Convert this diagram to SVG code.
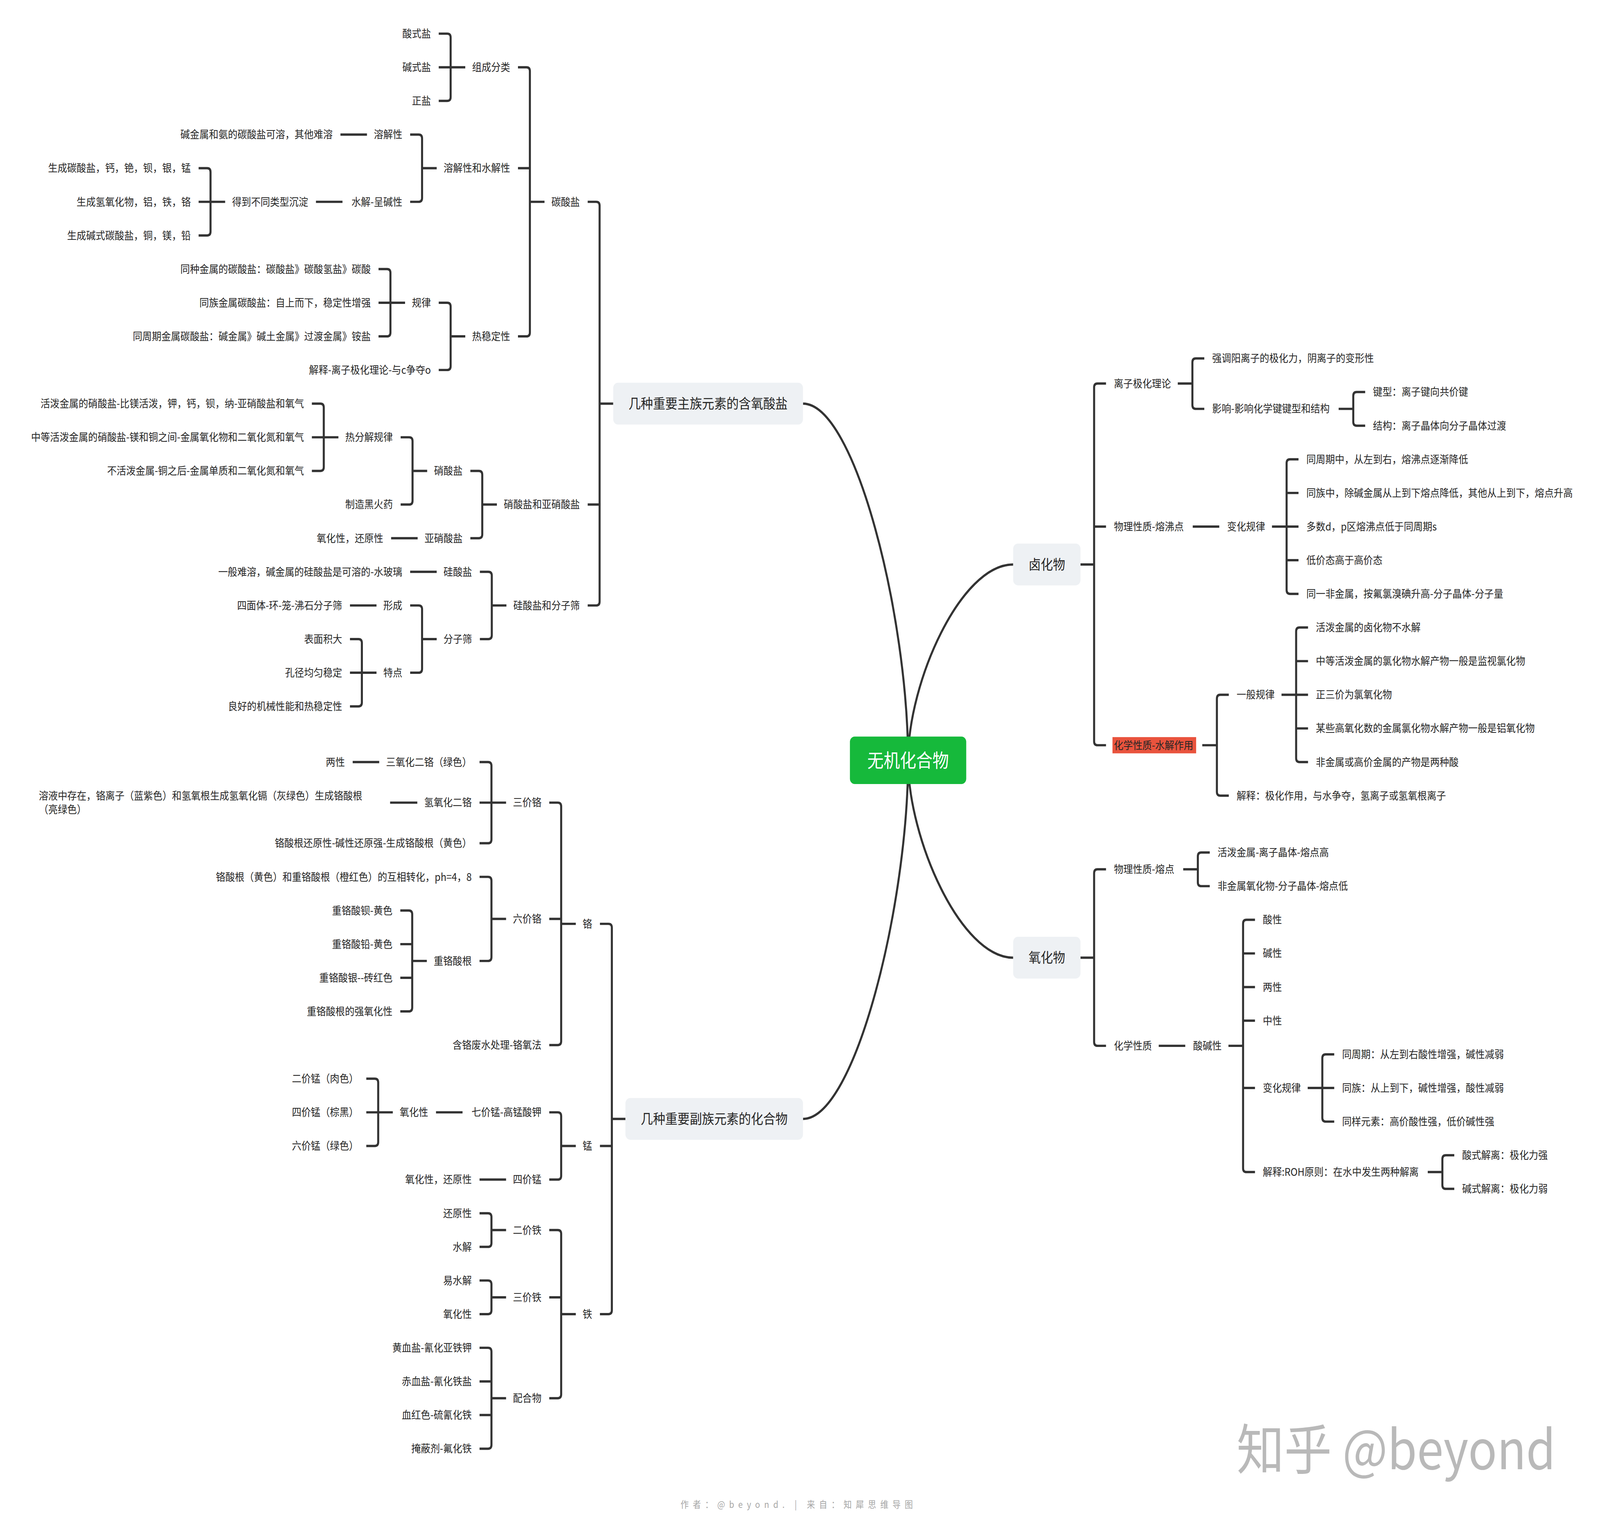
<svg xmlns="http://www.w3.org/2000/svg" width="4656" height="3914" viewBox="0 0 4656 3914" preserveAspectRatio="none">
<style>
:root{width:100vw;height:100vh}
.t{font-family:"Noto Sans CJK SC","Noto Sans CJK JP",sans-serif;font-size:28px;fill:#262626}
.e{text-anchor:end}
.s{text-anchor:start}
.c{fill:none;stroke:#333;stroke-width:6;stroke-linejoin:round}
.box{fill:#eef1f4}
.bt{font-family:"Noto Sans CJK SC","Noto Sans CJK JP",sans-serif;font-size:36px;fill:#262626;text-anchor:middle}
</style>
<rect width="4656" height="3914" fill="#ffffff"/>
<g transform="scale(0.9897)">
<g id="connectors">
<path class="c" d="M2361 1044 C2515 1044 2670 1597 2670 1966"/>
<path class="c" d="M2361 2894 C2515 2894 2670 2337 2670 1966"/>
<path class="c" d="M2979 1460 C2825 1460 2670 1764 2670 1966"/>
<path class="c" d="M2979 2477 C2825 2477 2670 2170 2670 1966"/>
<path class="c" d="M1728 522 H1753 Q1763 522 1763 532 V1556 Q1763 1566 1753 1566 H1728 M1728 1305 H1763 M1763 1044 H1803"/>
<path class="c" d="M1523 174 H1548 Q1558 174 1558 184 V860 Q1558 870 1548 870 H1523 M1523 435 H1558 M1558 522 H1601"/>
<path class="c" d="M1290 87 H1315 Q1325 87 1325 97 V251 Q1325 261 1315 261 H1290 M1290 174 H1368"/>
<path class="c" d="M1206 348 H1231 Q1241 348 1241 358 V512 Q1241 522 1231 522 H1206 M1241 435 H1284"/>
<path class="c" d="M1001 348 H1079"/>
<path class="c" d="M929 522 H1007"/>
<path class="c" d="M584 435 H609 Q619 435 619 445 V599 Q619 609 609 609 H584 M584 522 H662"/>
<path class="c" d="M1290 783 H1315 Q1325 783 1325 793 V947 Q1325 957 1315 957 H1290 M1325 870 H1368"/>
<path class="c" d="M1113 696 H1138 Q1148 696 1148 706 V860 Q1148 870 1138 870 H1113 M1113 783 H1191"/>
<path class="c" d="M1383 1218 H1408 Q1418 1218 1418 1228 V1382 Q1418 1392 1408 1392 H1383 M1418 1305 H1461"/>
<path class="c" d="M1178 1131 H1203 Q1213 1131 1213 1141 V1295 Q1213 1305 1203 1305 H1178 M1213 1218 H1256"/>
<path class="c" d="M917 1044 H942 Q952 1044 952 1054 V1208 Q952 1218 942 1218 H917 M917 1131 H995"/>
<path class="c" d="M1150 1392 H1228"/>
<path class="c" d="M1411 1479 H1436 Q1446 1479 1446 1489 V1643 Q1446 1653 1436 1653 H1411 M1446 1566 H1489"/>
<path class="c" d="M1206 1479 H1284"/>
<path class="c" d="M1206 1566 H1231 Q1241 1566 1241 1576 V1730 Q1241 1740 1231 1740 H1206 M1241 1653 H1284"/>
<path class="c" d="M1029 1566 H1107"/>
<path class="c" d="M1029 1653 H1054 Q1064 1653 1064 1663 V1817 Q1064 1827 1054 1827 H1029 M1029 1740 H1107"/>
<path class="c" d="M1764 2389.5 H1789 Q1799 2389.5 1799 2399.5 V3389 Q1799 3399 1789 3399 H1764 M1764 2964 H1799 M1799 2894 H1839"/>
<path class="c" d="M1615 2076 H1640 Q1650 2076 1650 2086 V2693 Q1650 2703 1640 2703 H1615 M1615 2376.75 H1650 M1650 2389.5 H1693"/>
<path class="c" d="M1410 1971 H1435 Q1445 1971 1445 1981 V2171 Q1445 2181 1435 2181 H1410 M1410 2076 H1488"/>
<path class="c" d="M1037 1971 H1115"/>
<path class="c" d="M1147 2076 H1227"/>
<path class="c" d="M1410 2268 H1435 Q1445 2268 1445 2278 V2475.5 Q1445 2485.5 1435 2485.5 H1410 M1445 2376.75 H1488"/>
<path class="c" d="M1177 2355 H1202 Q1212 2355 1212 2365 V2606 Q1212 2616 1202 2616 H1177 M1177 2442 H1212 M1177 2529 H1212 M1212 2485.5 H1255"/>
<path class="c" d="M1615 2877 H1640 Q1650 2877 1650 2887 V3041 Q1650 3051 1640 3051 H1615 M1650 2964 H1693"/>
<path class="c" d="M1282 2877 H1360"/>
<path class="c" d="M1077 2790 H1102 Q1112 2790 1112 2800 V2954 Q1112 2964 1102 2964 H1077 M1077 2877 H1155"/>
<path class="c" d="M1410 3051 H1488"/>
<path class="c" d="M1615 3181.5 H1640 Q1650 3181.5 1650 3191.5 V3606.5 Q1650 3616.5 1640 3616.5 H1615 M1615 3355.5 H1650 M1650 3399 H1693"/>
<path class="c" d="M1410 3138 H1435 Q1445 3138 1445 3148 V3215 Q1445 3225 1435 3225 H1410 M1445 3181.5 H1488"/>
<path class="c" d="M1410 3312 H1435 Q1445 3312 1445 3322 V3389 Q1445 3399 1435 3399 H1410 M1445 3355.5 H1488"/>
<path class="c" d="M1410 3486 H1435 Q1445 3486 1445 3496 V3737 Q1445 3747 1435 3747 H1410 M1410 3573 H1445 M1410 3660 H1445 M1445 3616.5 H1488"/>
<path class="c" d="M3252 992 H3227 Q3217 992 3217 1002 V1917.5 Q3217 1927.5 3227 1927.5 H3252 M3217 1362 H3252 M3177 1460 H3217"/>
<path class="c" d="M3541 927 H3516 Q3506 927 3506 937 V1047.5 Q3506 1057.5 3516 1057.5 H3541 M3463 992 H3506"/>
<path class="c" d="M4014 1014 H3989 Q3979 1014 3979 1024 V1091 Q3979 1101 3989 1101 H4014 M3936 1057.5 H3979"/>
<path class="c" d="M3507 1362 H3585"/>
<path class="c" d="M3818 1188 H3793 Q3783 1188 3783 1198 V1526 Q3783 1536 3793 1536 H3818 M3818 1275 H3783 M3740 1362 H3818 M3818 1449 H3783"/>
<path class="c" d="M3613 1797 H3588 Q3578 1797 3578 1807 V2048 Q3578 2058 3588 2058 H3613 M3535 1927.5 H3578"/>
<path class="c" d="M3846 1623 H3821 Q3811 1623 3811 1633 V1961 Q3811 1971 3821 1971 H3846 M3846 1710 H3811 M3768 1797 H3846 M3846 1884 H3811"/>
<path class="c" d="M3252 2248.5 H3227 Q3217 2248.5 3217 2258.5 V2695 Q3217 2705 3227 2705 H3252 M3177 2477 H3217"/>
<path class="c" d="M3557 2205 H3532 Q3522 2205 3522 2215 V2282 Q3522 2292 3532 2292 H3557 M3479 2248.5 H3522"/>
<path class="c" d="M3407 2705 H3485"/>
<path class="c" d="M3690 2379 H3665 Q3655 2379 3655 2389 V3021.5 Q3655 3031.5 3665 3031.5 H3690 M3690 2466 H3655 M3690 2553 H3655 M3690 2640 H3655 M3690 2814 H3655 M3612 2705 H3655"/>
<path class="c" d="M3923 2727 H3898 Q3888 2727 3888 2737 V2891 Q3888 2901 3898 2901 H3923 M3845 2814 H3923"/>
<path class="c" d="M4276 2988 H4251 Q4241 2988 4241 2998 V3065 Q4241 3075 4251 3075 H4276 M4198 3031.5 H4241"/>
</g>
<g id="root"><rect x="2499" y="1905" width="342" height="123" rx="14" fill="#16b93b"/><text x="2670" y="1984" text-anchor="middle" font-family="Noto Sans CJK SC, sans-serif" font-size="48" fill="#ffffff">无机化合物</text></g>
<g id="main1"><rect class="box" x="1803" y="990" width="558" height="108" rx="14"/><text class="bt" x="2082" y="1057">几种重要主族元素的含氧酸盐</text></g>
<g id="main2"><rect class="box" x="1839" y="2840" width="522" height="108" rx="14"/><text class="bt" x="2100" y="2907">几种重要副族元素的化合物</text></g>
<g id="halide"><rect class="box" x="2979" y="1406" width="198" height="108" rx="14"/><text class="bt" x="3078" y="1473">卤化物</text></g>
<g id="oxide"><rect class="box" x="2979" y="2423" width="198" height="108" rx="14"/><text class="bt" x="3078" y="2490">氧化物</text></g>
<g id="n1"><text class="t e" x="1705" y="532">碳酸盐</text></g>
<g id="n2"><text class="t e" x="1705" y="1315">硝酸盐和亚硝酸盐</text></g>
<g id="n3"><text class="t e" x="1705" y="1576">硅酸盐和分子筛</text></g>
<g id="n4"><text class="t e" x="1500" y="184">组成分类</text></g>
<g id="n5"><text class="t e" x="1500" y="445">溶解性和水解性</text></g>
<g id="n6"><text class="t e" x="1500" y="880">热稳定性</text></g>
<g id="n7"><text class="t e" x="1267" y="97">酸式盐</text></g>
<g id="n8"><text class="t e" x="1267" y="184">碱式盐</text></g>
<g id="n9"><text class="t e" x="1267" y="271">正盐</text></g>
<g id="n10"><text class="t e" x="1183" y="358">溶解性</text></g>
<g id="n11"><text class="t e" x="1183" y="532">水解-呈碱性</text></g>
<g id="n12"><text class="t e" x="978" y="358">碱金属和氨的碳酸盐可溶，其他难溶</text></g>
<g id="n13"><text class="t e" x="906" y="532">得到不同类型沉淀</text></g>
<g id="n14"><text class="t e" x="561" y="445">生成碳酸盐，钙，铯，钡，银，锰</text></g>
<g id="n15"><text class="t e" x="561" y="532">生成氢氧化物，铝，铁，铬</text></g>
<g id="n16"><text class="t e" x="561" y="619">生成碱式碳酸盐，铜，镁，铅</text></g>
<g id="n17"><text class="t e" x="1267" y="793">规律</text></g>
<g id="n18"><text class="t e" x="1267" y="967">解释-离子极化理论-与c争夺o</text></g>
<g id="n19"><text class="t e" x="1090" y="706">同种金属的碳酸盐：碳酸盐》碳酸氢盐》碳酸</text></g>
<g id="n20"><text class="t e" x="1090" y="793">同族金属碳酸盐：自上而下，稳定性增强</text></g>
<g id="n21"><text class="t e" x="1090" y="880">同周期金属碳酸盐：碱金属》碱土金属》过渡金属》铵盐</text></g>
<g id="n22"><text class="t e" x="1360" y="1228">硝酸盐</text></g>
<g id="n23"><text class="t e" x="1360" y="1402">亚硝酸盐</text></g>
<g id="n24"><text class="t e" x="1155" y="1141">热分解规律</text></g>
<g id="n25"><text class="t e" x="1155" y="1315">制造黑火药</text></g>
<g id="n26"><text class="t e" x="894" y="1054">活泼金属的硝酸盐-比镁活泼，钾，钙，钡，纳-亚硝酸盐和氧气</text></g>
<g id="n27"><text class="t e" x="894" y="1141">中等活泼金属的硝酸盐-镁和铜之间-金属氧化物和二氧化氮和氧气</text></g>
<g id="n28"><text class="t e" x="894" y="1228">不活泼金属-铜之后-金属单质和二氧化氮和氧气</text></g>
<g id="n29"><text class="t e" x="1127" y="1402">氧化性，还原性</text></g>
<g id="n30"><text class="t e" x="1388" y="1489">硅酸盐</text></g>
<g id="n31"><text class="t e" x="1388" y="1663">分子筛</text></g>
<g id="n32"><text class="t e" x="1183" y="1489">一般难溶，碱金属的硅酸盐是可溶的-水玻璃</text></g>
<g id="n33"><text class="t e" x="1183" y="1576">形成</text></g>
<g id="n34"><text class="t e" x="1183" y="1750">特点</text></g>
<g id="n35"><text class="t e" x="1006" y="1576">四面体-环-笼-沸石分子筛</text></g>
<g id="n36"><text class="t e" x="1006" y="1663">表面积大</text></g>
<g id="n37"><text class="t e" x="1006" y="1750">孔径均匀稳定</text></g>
<g id="n38"><text class="t e" x="1006" y="1837">良好的机械性能和热稳定性</text></g>
<g id="n39"><text class="t e" x="1741" y="2399.5">铬</text></g>
<g id="n40"><text class="t e" x="1741" y="2974">锰</text></g>
<g id="n41"><text class="t e" x="1741" y="3409">铁</text></g>
<g id="n42"><text class="t e" x="1592" y="2086">三价铬</text></g>
<g id="n43"><text class="t e" x="1592" y="2386.75">六价铬</text></g>
<g id="n44"><text class="t e" x="1592" y="2713">含铬废水处理-铬氧法</text></g>
<g id="n45"><text class="t e" x="1387" y="1981">三氧化二铬（绿色）</text></g>
<g id="n46"><text class="t e" x="1387" y="2086">氢氧化二铬</text></g>
<g id="n47"><text class="t e" x="1387" y="2191">铬酸根还原性-碱性还原强-生成铬酸根（黄色）</text></g>
<g id="n48"><text class="t e" x="1014" y="1981">两性</text></g>
<g id="n49"><text class="t s" x="114" y="2068">溶液中存在，铬离子（蓝紫色）和氢氧根生成氢氧化镉（灰绿色）生成铬酸根</text><text class="t s" x="114" y="2104">（亮绿色）</text></g>
<g id="n50"><text class="t e" x="1387" y="2278">铬酸根（黄色）和重铬酸根（橙红色）的互相转化，ph=4，8</text></g>
<g id="n51"><text class="t e" x="1387" y="2495.5">重铬酸根</text></g>
<g id="n52"><text class="t e" x="1154" y="2365">重铬酸钡-黄色</text></g>
<g id="n53"><text class="t e" x="1154" y="2452">重铬酸铅-黄色</text></g>
<g id="n54"><text class="t e" x="1154" y="2539">重铬酸银--砖红色</text></g>
<g id="n55"><text class="t e" x="1154" y="2626">重铬酸根的强氧化性</text></g>
<g id="n56"><text class="t e" x="1592" y="2887">七价锰-高锰酸钾</text></g>
<g id="n57"><text class="t e" x="1592" y="3061">四价锰</text></g>
<g id="n58"><text class="t e" x="1259" y="2887">氧化性</text></g>
<g id="n59"><text class="t e" x="1054" y="2800">二价锰（肉色）</text></g>
<g id="n60"><text class="t e" x="1054" y="2887">四价锰（棕黑）</text></g>
<g id="n61"><text class="t e" x="1054" y="2974">六价锰（绿色）</text></g>
<g id="n62"><text class="t e" x="1387" y="3061">氧化性，还原性</text></g>
<g id="n63"><text class="t e" x="1592" y="3191.5">二价铁</text></g>
<g id="n64"><text class="t e" x="1592" y="3365.5">三价铁</text></g>
<g id="n65"><text class="t e" x="1592" y="3626.5">配合物</text></g>
<g id="n66"><text class="t e" x="1387" y="3148">还原性</text></g>
<g id="n67"><text class="t e" x="1387" y="3235">水解</text></g>
<g id="n68"><text class="t e" x="1387" y="3322">易水解</text></g>
<g id="n69"><text class="t e" x="1387" y="3409">氧化性</text></g>
<g id="n70"><text class="t e" x="1387" y="3496">黄血盐-氰化亚铁钾</text></g>
<g id="n71"><text class="t e" x="1387" y="3583">赤血盐-氰化铁盐</text></g>
<g id="n72"><text class="t e" x="1387" y="3670">血红色-硫氰化铁</text></g>
<g id="n73"><text class="t e" x="1387" y="3757">掩蔽剂-氟化铁</text></g>
<g id="r1"><text class="t s" x="3275" y="1002">离子极化理论</text></g>
<g id="r2"><text class="t s" x="3275" y="1372">物理性质-熔沸点</text></g>
<g id="r3"><rect x="3271" y="1906.5" width="246" height="42" fill="#e9533d"/><text class="t s" x="3275" y="1937.5">化学性质-水解作用</text></g>
<g id="r4"><text class="t s" x="3564" y="937">强调阳离子的极化力，阴离子的变形性</text></g>
<g id="r5"><text class="t s" x="3564" y="1067.5">影响-影响化学键键型和结构</text></g>
<g id="r6"><text class="t s" x="4037" y="1024">键型：离子键向共价键</text></g>
<g id="r7"><text class="t s" x="4037" y="1111">结构：离子晶体向分子晶体过渡</text></g>
<g id="r8"><text class="t s" x="3608" y="1372">变化规律</text></g>
<g id="r9"><text class="t s" x="3841" y="1198">同周期中，从左到右，熔沸点逐渐降低</text></g>
<g id="r10"><text class="t s" x="3841" y="1285">同族中，除碱金属从上到下熔点降低，其他从上到下，熔点升高</text></g>
<g id="r11"><text class="t s" x="3841" y="1372">多数d，p区熔沸点低于同周期s</text></g>
<g id="r12"><text class="t s" x="3841" y="1459">低价态高于高价态</text></g>
<g id="r13"><text class="t s" x="3841" y="1546">同一非金属，按氟氯溴碘升高-分子晶体-分子量</text></g>
<g id="r14"><text class="t s" x="3636" y="1807">一般规律</text></g>
<g id="r15"><text class="t s" x="3636" y="2068">解释：极化作用，与水争夺，氢离子或氢氧根离子</text></g>
<g id="r16"><text class="t s" x="3869" y="1633">活泼金属的卤化物不水解</text></g>
<g id="r17"><text class="t s" x="3869" y="1720">中等活泼金属的氯化物水解产物一般是监视氯化物</text></g>
<g id="r18"><text class="t s" x="3869" y="1807">正三价为氯氧化物</text></g>
<g id="r19"><text class="t s" x="3869" y="1894">某些高氧化数的金属氯化物水解产物一般是铝氧化物</text></g>
<g id="r20"><text class="t s" x="3869" y="1981">非金属或高价金属的产物是两种酸</text></g>
<g id="r21"><text class="t s" x="3275" y="2258.5">物理性质-熔点</text></g>
<g id="r22"><text class="t s" x="3275" y="2715">化学性质</text></g>
<g id="r23"><text class="t s" x="3580" y="2215">活泼金属-离子晶体-熔点高</text></g>
<g id="r24"><text class="t s" x="3580" y="2302">非金属氧化物-分子晶体-熔点低</text></g>
<g id="r25"><text class="t s" x="3508" y="2715">酸碱性</text></g>
<g id="r26"><text class="t s" x="3713" y="2389">酸性</text></g>
<g id="r27"><text class="t s" x="3713" y="2476">碱性</text></g>
<g id="r28"><text class="t s" x="3713" y="2563">两性</text></g>
<g id="r29"><text class="t s" x="3713" y="2650">中性</text></g>
<g id="r30"><text class="t s" x="3713" y="2824">变化规律</text></g>
<g id="r31"><text class="t s" x="3713" y="3041.5">解释:ROH原则：在水中发生两种解离</text></g>
<g id="r32"><text class="t s" x="3946" y="2737">同周期：从左到右酸性增强，碱性减弱</text></g>
<g id="r33"><text class="t s" x="3946" y="2824">同族：从上到下，碱性增强，酸性减弱</text></g>
<g id="r34"><text class="t s" x="3946" y="2911">同样元素：高价酸性强，低价碱性强</text></g>
<g id="r35"><text class="t s" x="4299" y="2998">酸式解离：极化力强</text></g>
<g id="r36"><text class="t s" x="4299" y="3085">碱式解离：极化力弱</text></g>
<g id="footer"><text x="2001" y="3900" font-family="Noto Sans CJK SC, sans-serif" font-size="24" letter-spacing="12" fill="#a6a6a6">作者：@beyond. | 来自：知犀思维导图</text></g>
<g id="watermark"><text x="3636" y="3800" font-family="Noto Sans CJK SC, sans-serif" font-size="140" fill="#b9b9b9">知乎 @beyond</text></g>
</g>
</svg>
